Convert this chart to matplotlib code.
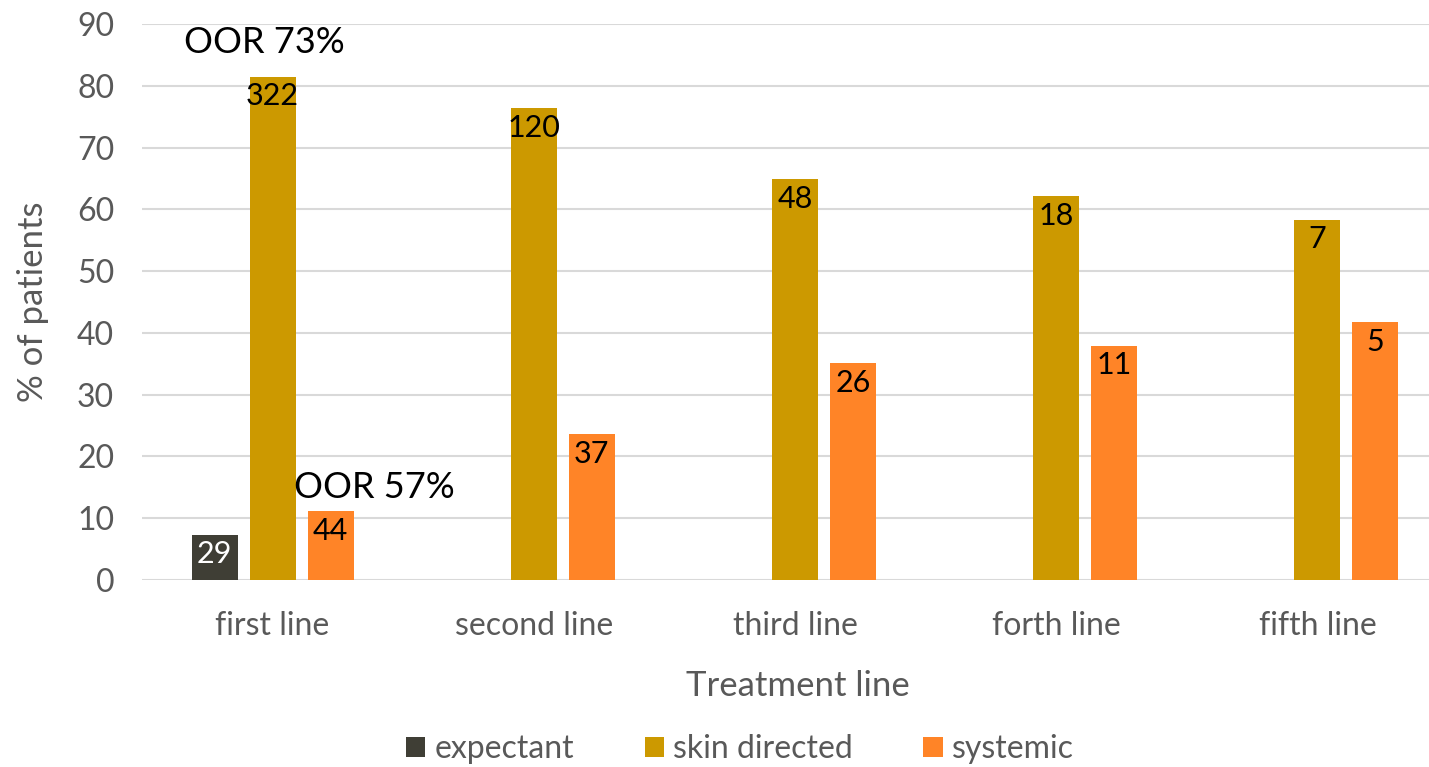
import matplotlib.pyplot as plt
import numpy as np

plt.rcParams['font.family'] = ['Lato', 'DejaVu Sans']

categories = ['first line', 'second line', 'third line', 'forth line', 'fifth line']
series_names = ['expectant', 'skin directed', 'systemic']

# percent of patients per treatment line
expectant_pct = [7.3, 0, 0, 0, 0]
skin_pct = [81.5, 76.4, 64.9, 62.1, 58.3]
systemic_pct = [11.1, 23.6, 35.1, 37.9, 41.7]

# patient counts shown inside the bars
expectant_n = [29, None, None, None, None]
skin_n = [322, 120, 48, 18, 7]
systemic_n = [44, 37, 26, 11, 5]

colors = ['#3F3E35', '#CC9900', '#FF8427']
label_colors = ['white', 'black', 'black']

W, H = 1429, 767
fig = plt.figure(figsize=(W / 100, H / 100), dpi=100)
ax = fig.add_axes([142 / W, (H - 580) / H, 1306 / W, 556 / H])

x = np.arange(len(categories))
step = 0.222
width = 0.176
pcts = [expectant_pct, skin_pct, systemic_pct]
counts = [expectant_n, skin_n, systemic_n]

for k, (vals, ns) in enumerate(zip(pcts, counts)):
    xs = x + (k - 1) * step
    ax.bar(xs, vals, width=width, color=colors[k], label=series_names[k], zorder=3)
    for xi, v, n in zip(xs, vals, ns):
        if n is None:
            continue
        ax.text(xi, v - 0.9, str(n), ha='center', va='top', fontsize=22,
                color=label_colors[k], zorder=4)

ax.text(-0.03, 87, 'OOR 73%', ha='center', va='center', fontsize=26, color='black')
ax.text(0.39, 14.9, 'OOR 57%', ha='center', va='center', fontsize=26, color='black')

ax.set_xlim(-0.5, len(categories) - 0.5)
ax.set_ylim(0, 90)
ax.set_yticks(np.arange(0, 91, 10))
ax.set_xticks(x)
ax.set_xticklabels(categories)
ax.tick_params(axis='both', length=0, labelsize=23, labelcolor='#595959')
ax.tick_params(axis='y', pad=20)
ax.tick_params(axis='x', pad=22)
ax.grid(axis='y', color='#D9D9D9', linewidth=1.5, zorder=0)
for s in ax.spines.values():
    s.set_visible(False)

ax.set_ylabel('% of patients', fontsize=25, color='#595959', labelpad=20)
fig.text(798 / W, 1 - 686 / H, 'Treatment line', ha='center', va='center',
         fontsize=25, color='#595959')

fig.legend(loc='center', bbox_to_anchor=(740 / W, 1 - 749 / H), ncol=3, frameon=False,
           fontsize=23, labelcolor='#595959', handlelength=0.6, handleheight=0.6,
           handletextpad=0.3, columnspacing=2.2)

fig.savefig('out.png', dpi=100)
